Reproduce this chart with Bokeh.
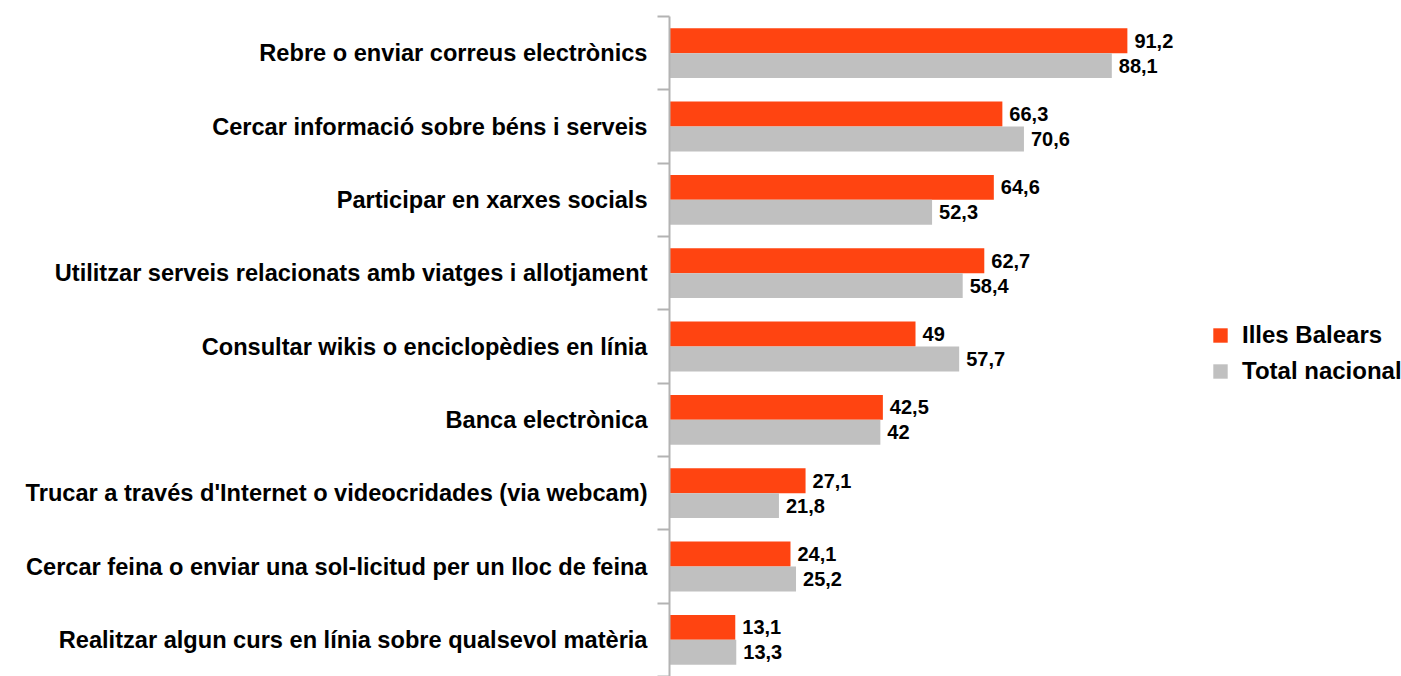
from bokeh.plotting import figure
from bokeh.models import Range1d, FixedTicker, ColumnDataSource, Legend, LegendItem
from bokeh.core.properties import value
from bokeh.embed import file_html
from bokeh.resources import INLINE

categories = [
    "Rebre o enviar correus electrònics",
    "Cercar informació sobre béns i serveis",
    "Participar en xarxes socials",
    "Utilitzar serveis relacionats amb viatges i allotjament",
    "Consultar wikis o enciclopèdies en línia",
    "Banca electrònica",
    "Trucar a través d'Internet o videocridades (via webcam)",
    "Cercar feina o enviar una sol-licitud per un lloc de feina",
    "Realitzar algun curs en línia sobre qualsevol matèria",
]
illes_balears = [91.2, 66.3, 64.6, 62.7, 49, 42.5, 27.1, 24.1, 13.1]
total_nacional = [88.1, 70.6, 52.3, 58.4, 57.7, 42, 21.8, 25.2, 13.3]
series_names = ["Illes Balears", "Total nacional"]

ORANGE = "#ff4411"
GREY = "#c0c0c0"
FONT = "Liberation Sans"

n = len(categories)
centers = [n - i - 0.5 for i in range(n)]

def fmt(v):
    s = ("%g" % v)
    return s.replace(".", ",")

src_a = ColumnDataSource(dict(
    y=[c + 0.17 for c in centers], x=illes_balears,
    lbl=[fmt(v) for v in illes_balears]))
src_b = ColumnDataSource(dict(
    y=[c - 0.17 for c in centers], x=total_nacional,
    lbl=[fmt(v) for v in total_nacional]))

p = figure(width=1401, height=676, output_backend="svg", toolbar_location=None,
           x_range=Range1d(0, 145.8), y_range=Range1d(0, n),
           min_border_left=669, min_border_right=0, min_border_top=16,
           min_border_bottom=0)
p.outline_line_color = None
p.xgrid.visible = False
p.ygrid.visible = False
p.xaxis.visible = False

r1 = p.hbar(y="y", right="x", left=0, height=0.34, source=src_a,
            fill_color=ORANGE, line_color=None)
r2 = p.hbar(y="y", right="x", left=0, height=0.34, source=src_b,
            fill_color=GREY, line_color=None)

for src in (src_a, src_b):
    p.text(x="x", y="y", text="lbl", source=src, x_offset=7,
           text_baseline="middle", text_align="left",
           text_font=value(FONT), text_font_style="bold",
           text_font_size="20px", text_color="black")

yax = p.yaxis[0]
yax.ticker = FixedTicker(ticks=centers, minor_ticks=list(range(0, n + 1)))
yax.major_label_overrides = {c: categories[i] for i, c in enumerate(centers)}
yax.major_tick_line_color = None
yax.major_tick_out = 0
yax.major_tick_in = 0
yax.minor_tick_out = 12
yax.minor_tick_in = 0
yax.minor_tick_line_color = "#b3b3b3"
yax.minor_tick_line_width = 2
yax.axis_line_color = "#b3b3b3"
yax.axis_line_width = 2
yax.major_label_standoff = 10
yax.major_label_text_font = FONT
yax.major_label_text_font_style = "bold"
yax.major_label_text_font_size = "23.6px"
yax.major_label_text_color = "black"

legend = Legend(items=[LegendItem(label=series_names[0], renderers=[r1]),
                       LegendItem(label=series_names[1], renderers=[r2])],
                location=(542, 291), orientation="vertical")
legend.border_line_color = None
legend.background_fill_alpha = 0
legend.padding = 0
legend.margin = 0
legend.spacing = 8
legend.glyph_width = 18
legend.glyph_height = 18
legend.label_standoff = 13
legend.label_text_font = FONT
legend.label_text_font_style = "bold"
legend.label_text_font_size = "24px"
legend.label_text_color = "black"
legend.label_height = 24
p.add_layout(legend)

open("out.html", "w").write(file_html(p, INLINE))
